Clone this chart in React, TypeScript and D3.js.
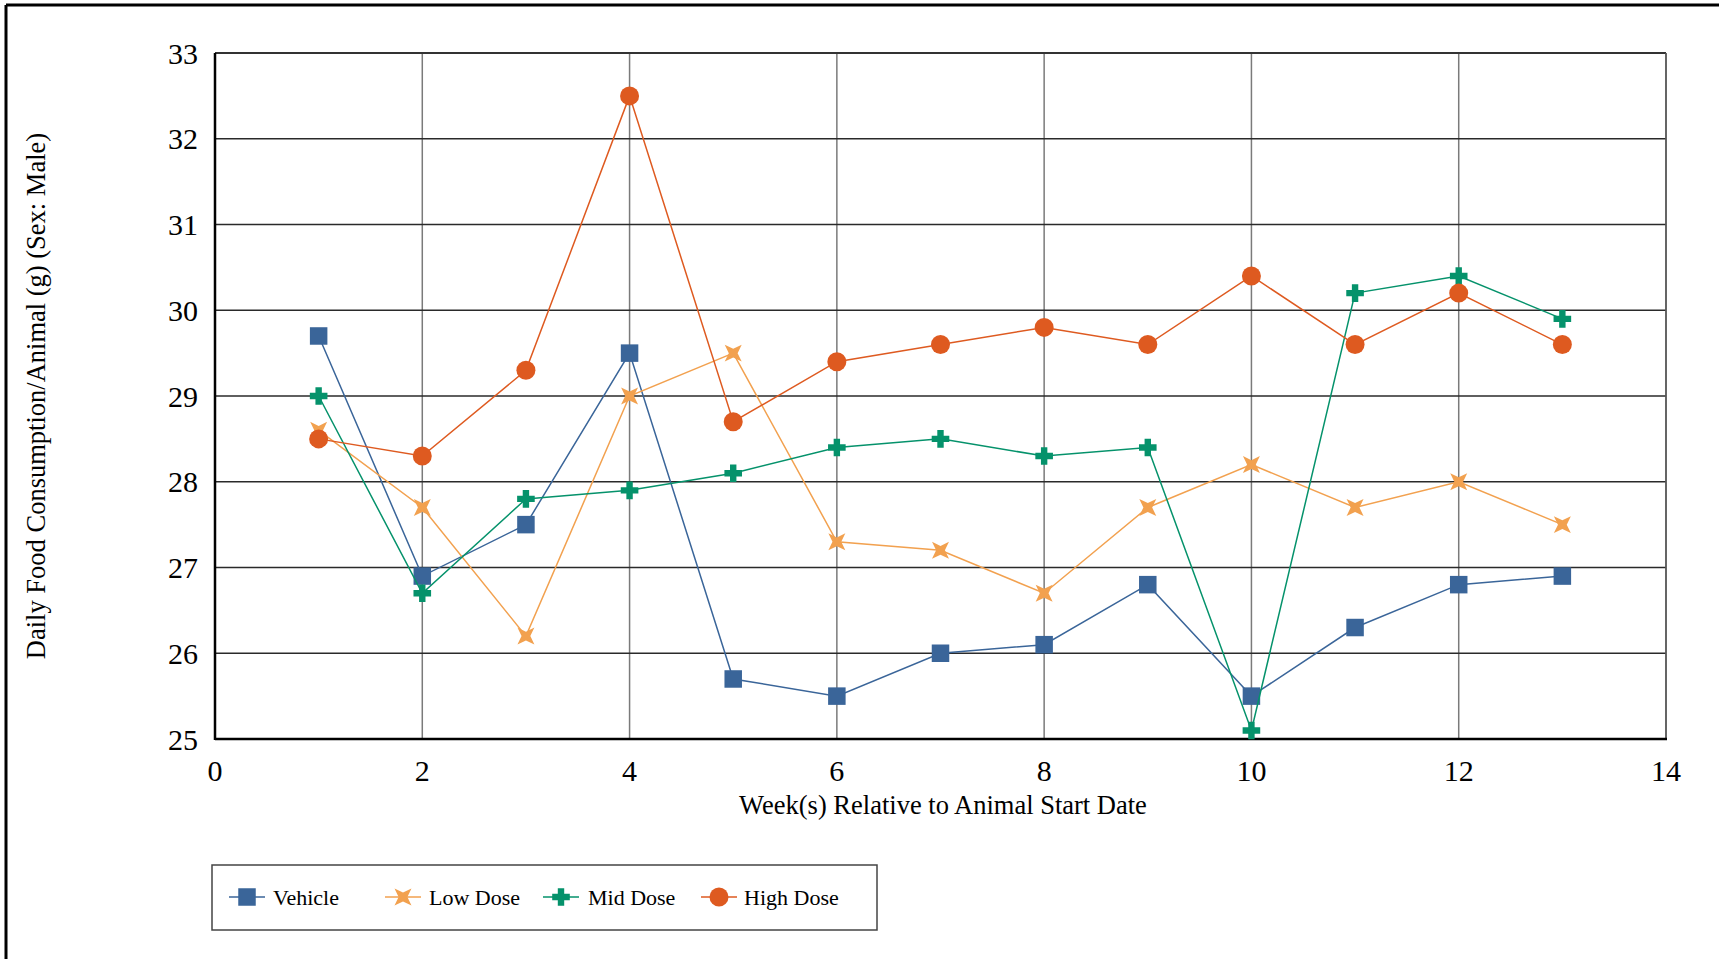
import React from "react";
import * as d3 from "d3";

const weeks = [1, 2, 3, 4, 5, 6, 7, 8, 9, 10, 11, 12, 13];
const vehicle = [29.7, 26.9, 27.5, 29.5, 25.7, 25.5, 26.0, 26.1, 26.8, 25.5, 26.3, 26.8, 26.9];
const lowDose = [28.6, 27.7, 26.2, 29.0, 29.5, 27.3, 27.2, 26.7, 27.7, 28.2, 27.7, 28.0, 27.5];
const midDose = [29.0, 26.7, 27.8, 27.9, 28.1, 28.4, 28.5, 28.3, 28.4, 25.1, 30.2, 30.4, 29.9];
const highDose = [28.5, 28.3, 29.3, 32.5, 28.7, 29.4, 29.6, 29.8, 29.6, 30.4, 29.6, 30.2, 29.6];
const seriesNames = ["Vehicle", "Low Dose", "Mid Dose", "High Dose"];
const seriesColors = ["#3a6599", "#f2a14f", "#05926b", "#de5a20"];
const xTicks = [0, 2, 4, 6, 8, 10, 12, 14];
const yTicks = [25, 26, 27, 28, 29, 30, 31, 32, 33];

const W = 1719;
const H = 959;
const L = 215, R = 1666, T = 53, B = 739;
const FONT = "'Liberation Serif', 'Times New Roman', serif";

function Marker({ kind, x, y, color }: { kind: number; x: number; y: number; color: string }) {
  if (kind === 0) {
    const s = 17.5;
    return <rect x={x - s / 2} y={y - s / 2} width={s} height={s} fill={color} />;
  }
  if (kind === 1) {
    const ro = 12, ri = 4.4;
    const pts: string[] = [];
    for (let i = 0; i < 8; i++) {
      const a = (Math.PI / 4) * i + Math.PI / 4;
      const r = i % 2 === 0 ? ro : ri;
      pts.push(`${x + r * Math.cos(a)},${y + r * Math.sin(a)}`);
    }
    return <polygon points={pts.join(" ")} fill={color} />;
  }
  if (kind === 2) {
    const a = 8.8, t = 3.2;
    const p = [
      [-t, -a], [t, -a], [t, -t], [a, -t], [a, t], [t, t], [t, a], [-t, a], [-t, t], [-a, t], [-a, -t], [-t, -t],
    ].map(([dx, dy]) => `${x + dx},${y + dy}`).join(" ");
    return <polygon points={p} fill={color} />;
  }
  return <circle cx={x} cy={y} r={9.5} fill={color} />;
}

export default function App() {
  const xs = d3.scaleLinear().domain([0, 14]).range([L, R]);
  const ys = d3.scaleLinear().domain([25, 33]).range([B, T]);
  const data = [vehicle, lowDose, midDose, highDose];
  const line = d3.line<number>().x((_, i) => xs(weeks[i])).y((d) => ys(d));

  const legendX = [247, 403, 561, 719];
  const legendTextX = [273, 429, 588, 744];
  const legendY = 897;

  return (
    <svg width={W} height={H} style={{ position: "absolute", left: 0, top: 0, background: "#fff" }} fontFamily={FONT}>
      <rect x={0} y={0} width={W} height={H} fill="#fff" />
      {/* outer frame */}
      <line x1={6} y1={5} x2={W} y2={5} stroke="#000" strokeWidth={3} />
      <line x1={6} y1={5} x2={6} y2={H} stroke="#000" strokeWidth={3} />

      {/* gridlines */}
      {xTicks.slice(1, -1).map((t) => (
        <line key={"vx" + t} x1={xs(t)} x2={xs(t)} y1={T} y2={B} stroke="#7a7a7a" strokeWidth={1.5} />
      ))}
      {yTicks.slice(1, -1).map((t) => (
        <line key={"hy" + t} x1={L} x2={R} y1={ys(t)} y2={ys(t)} stroke="#2a2a2a" strokeWidth={1.6} />
      ))}
      {/* borders */}
      <line x1={L} x2={R} y1={T} y2={T} stroke="#333" strokeWidth={1.8} />
      <line x1={R} x2={R} y1={T} y2={B} stroke="#555" strokeWidth={1.8} />
      <line x1={L} x2={L} y1={T} y2={B + 1} stroke="#000" strokeWidth={2.5} />
      <line x1={L} x2={R + 1} y1={B} y2={B} stroke="#000" strokeWidth={2.5} />

      {/* y tick labels */}
      {yTicks.map((t) => (
        <text key={"yl" + t} x={198} y={ys(t)} textAnchor="end" dominantBaseline="central" fontSize={30} fill="#000">
          {t}
        </text>
      ))}
      {/* x tick labels */}
      {xTicks.map((t) => (
        <text key={"xl" + t} x={xs(t)} y={781} textAnchor="middle" fontSize={30} fill="#000">
          {t}
        </text>
      ))}

      {/* axis titles */}
      <text x={943} y={814} textAnchor="middle" fontSize={26.5} fill="#000">
        Week(s) Relative to Animal Start Date
      </text>
      <text
        transform={`translate(45, ${(T + B) / 2}) rotate(-90)`}
        textAnchor="middle"
        fontSize={26.5}
        fill="#000"
      >
        Daily Food Consumption/Animal (g) (Sex: Male)
      </text>

      {/* series */}
      {data.map((vals, si) => (
        <g key={"s" + si}>
          <path d={line(vals) || ""} fill="none" stroke={seriesColors[si]} strokeWidth={1.5} />
          {vals.map((v, i) => (
            <Marker key={i} kind={si} x={xs(weeks[i])} y={ys(v)} color={seriesColors[si]} />
          ))}
        </g>
      ))}

      {/* legend */}
      <rect x={212} y={865} width={665} height={65} fill="#fff" stroke="#444" strokeWidth={1.5} />
      {seriesNames.map((n, i) => (
        <g key={"lg" + i}>
          <line x1={legendX[i] - 18} x2={legendX[i] + 18} y1={legendY} y2={legendY} stroke={seriesColors[i]} strokeWidth={1.5} />
          <Marker kind={i} x={legendX[i]} y={legendY} color={seriesColors[i]} />
          <text x={legendTextX[i]} y={legendY} dominantBaseline="central" fontSize={22} fill="#000">
            {n}
          </text>
        </g>
      ))}
    </svg>
  );
}
